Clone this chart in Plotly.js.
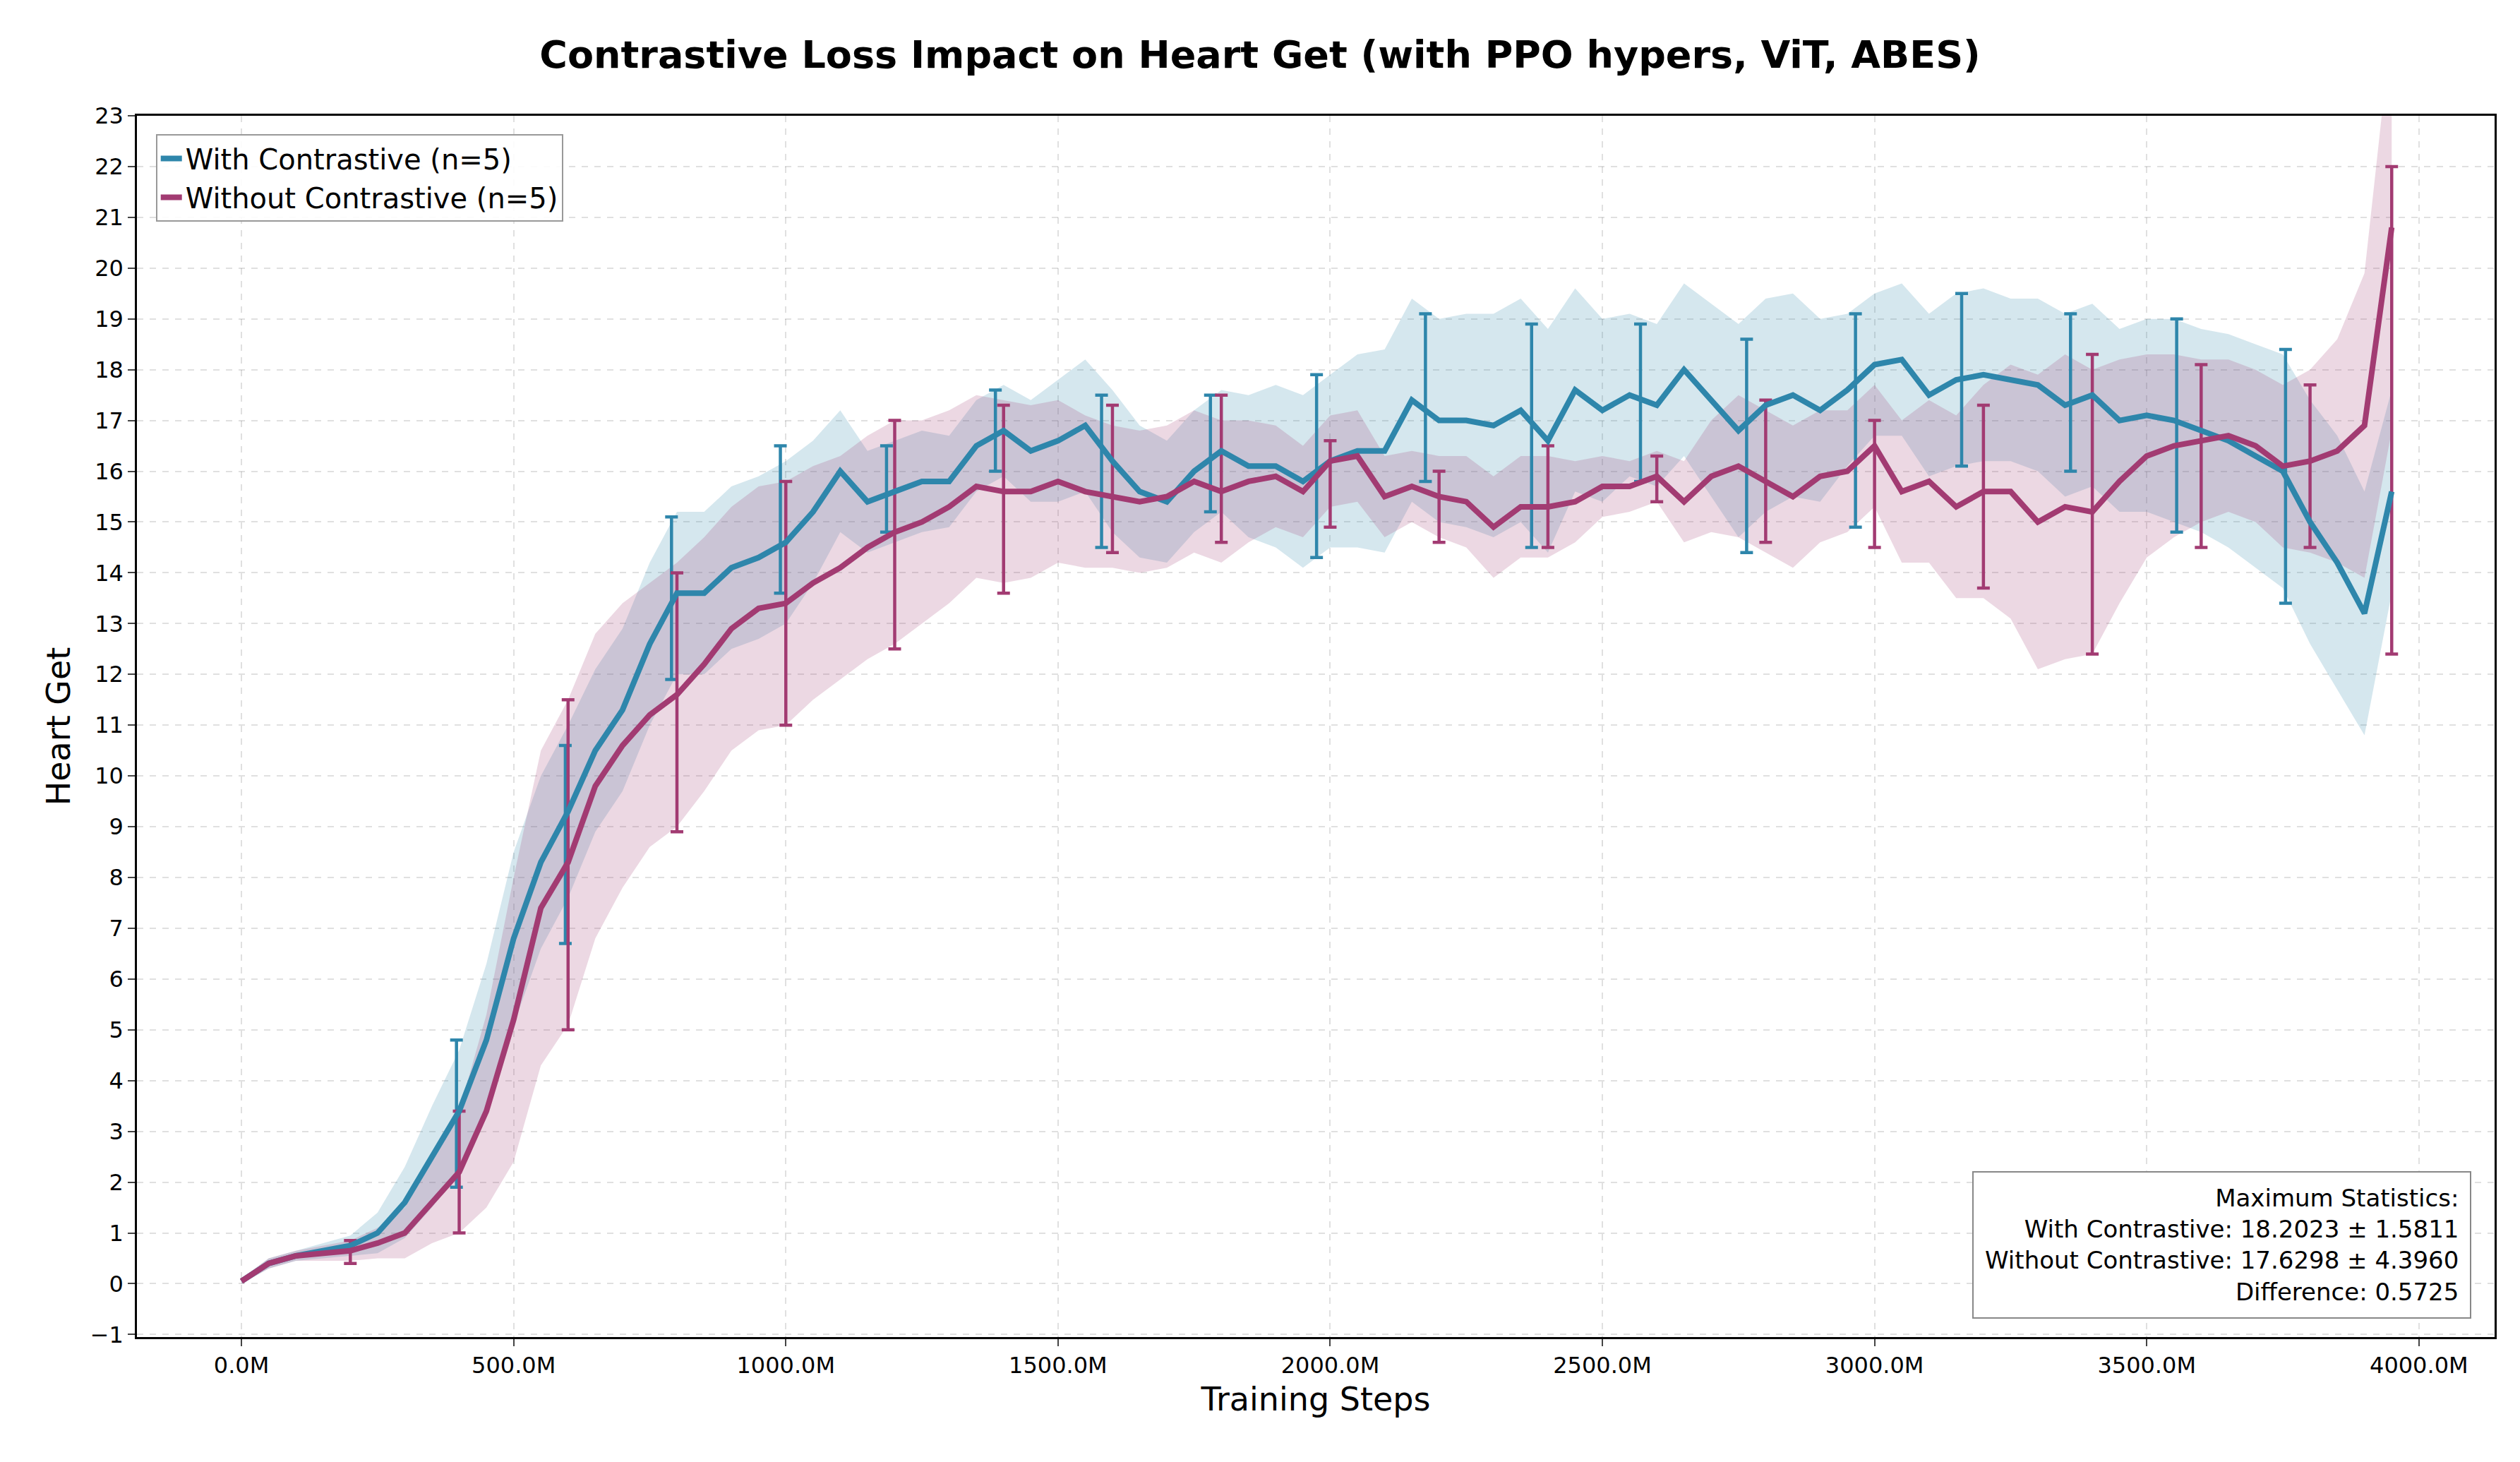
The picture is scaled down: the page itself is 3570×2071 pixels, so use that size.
<!DOCTYPE html>
<html>
<head>
<meta charset="utf-8">
<script src="https://cdn.plot.ly/plotly-3.0.1.min.js"></script>
<style>body{margin:0;background:#fff}#chart{width:3570px;height:2071px}</style>
</head>
<body>
<div id="chart"></div>
<script>
// steps (millions), every 50M
var steps = [];
for (var s = 0; s <= 3950; s += 50) steps.push(s);

//          with contrastive
var withMean = [0.05,0.4,0.55,0.65,0.75,1.0,1.6,2.5,3.4,4.8,6.8,8.3,9.3,10.5,11.3,12.6,13.6,13.6,14.1,14.3,
  14.6,15.2,16.0,15.4,15.6,15.8,15.8,16.5,16.8,16.4,16.6,16.9,16.2,15.6,15.4,16.0,16.4,16.1,16.1,15.8,
  16.2,16.4,16.4,17.4,17.0,17.0,16.9,17.2,16.6,17.6,17.2,17.5,17.3,18.0,17.4,16.8,17.3,17.5,17.2,17.6,
  18.1,18.2,17.5,17.8,17.9,17.8,17.7,17.3,17.5,17.0,17.1,17.0,16.8,16.6,16.3,16.0,15.0,14.2,13.2,15.6];
var withStd = [0.05,0.1,0.1,0.15,0.2,0.4,0.7,1.0,1.2,1.5,1.7,1.7,1.7,1.6,1.6,1.6,1.6,1.6,1.6,1.6,
  1.6,1.4,1.2,1.0,1.0,1.0,0.9,0.9,0.9,1.0,1.2,1.3,1.4,1.3,1.2,1.2,1.2,1.4,1.6,1.7,
  1.7,1.9,2.0,2.0,2.0,2.1,2.2,2.2,2.2,2.0,1.8,1.6,1.6,1.7,1.9,2.1,2.1,2.0,1.8,1.5,
  1.4,1.5,1.6,1.7,1.7,1.6,1.7,1.8,1.8,1.8,1.9,2.0,2.0,2.1,2.2,2.3,2.4,2.5,2.4,2.0];
var withBarX  = [395,595,790,990,1185,1385,1580,1780,1975,2175,2370,2570,2765,2965,3160,3360,3555,3755];
var withBarLo = [1.9,6.7,11.9,13.6,14.8,16.0,14.5,15.2,14.3,15.8,14.5,15.8,14.4,14.9,16.1,16.0,14.8,13.4];
var withBarHi = [4.8,10.6,15.1,16.5,16.5,17.6,17.5,17.5,17.9,19.1,18.9,18.9,18.6,19.1,19.5,19.1,19.0,18.4];

//          without contrastive
var woMean = [0.05,0.4,0.55,0.6,0.65,0.8,1.0,1.6,2.2,3.4,5.2,7.4,8.3,9.8,10.6,11.2,11.6,12.2,12.9,13.3,
  13.4,13.8,14.1,14.5,14.8,15.0,15.3,15.7,15.6,15.6,15.8,15.6,15.5,15.4,15.5,15.8,15.6,15.8,15.9,15.6,
  16.2,16.3,15.5,15.7,15.5,15.4,14.9,15.3,15.3,15.4,15.7,15.7,15.9,15.4,15.9,16.1,15.8,15.5,15.9,16.0,
  16.5,15.6,15.8,15.3,15.6,15.6,15.0,15.3,15.2,15.8,16.3,16.5,16.6,16.7,16.5,16.1,16.2,16.4,16.9,20.8];
var woStd = [0.05,0.1,0.1,0.15,0.2,0.3,0.5,0.8,1.2,1.9,2.8,3.1,3.2,3.0,2.8,2.6,2.6,2.5,2.4,2.4,
  2.4,2.3,2.2,2.2,2.2,2.0,1.9,1.8,1.8,1.7,1.6,1.5,1.4,1.4,1.4,1.4,1.4,1.2,1.0,0.9,
  0.9,0.9,0.8,0.7,0.8,0.9,1.0,1.0,1.0,0.8,0.6,0.5,0.5,0.8,1.1,1.4,1.4,1.4,1.3,1.2,
  1.2,1.4,1.6,1.8,2.1,2.5,2.9,3.0,2.8,2.4,2.0,1.8,1.6,1.5,1.5,1.6,1.8,2.2,3.0,4.0];
var woBarX  = [200,400,600,800,1000,1200,1400,1600,1800,2000,2200,2400,2600,2800,3000,3200,3400,3600,3800,3950];
var woBarLo = [0.4,1.0,5.0,8.9,11.0,12.5,13.6,14.4,14.6,14.9,14.6,14.5,15.4,14.6,14.5,13.7,12.4,14.5,14.5,12.4];
var woBarHi = [0.85,3.4,11.5,14.0,15.8,17.0,17.3,17.3,17.5,16.6,16.0,16.5,16.3,17.4,17.0,17.3,18.3,18.1,17.7,22.0];

var blue = '#2e86ab', mag = '#a23b72';

function band(mean, sd, fill) {
  var up = [], lo = [];
  for (var i = 0; i < mean.length; i++) { up.push(mean[i] + sd[i]); lo.push(mean[i] - sd[i]); }
  return [
    {x: steps, y: lo, mode: 'lines', line: {width: 0}, showlegend: false, hoverinfo: 'skip'},
    {x: steps, y: up, mode: 'lines', line: {width: 0}, fill: 'tonexty', fillcolor: fill, showlegend: false, hoverinfo: 'skip'}
  ];
}
function bars(bx, lo, hi, color) {
  var mid = [], half = [];
  for (var i = 0; i < bx.length; i++) {
    mid.push((lo[i] + hi[i]) / 2); half.push((hi[i] - lo[i]) / 2);
  }
  return {x: bx, y: mid, mode: 'markers', marker: {size: 0.1, color: color}, showlegend: false,
    error_y: {type: 'data', array: half, color: color, thickness: 4.5, width: 9}};
}

var data = [].concat(
  band(withMean, withStd, 'rgba(46,134,171,0.2)'),
  band(woMean, woStd, 'rgba(162,59,114,0.2)'),
  [
    bars(withBarX, withBarLo, withBarHi, blue),
    bars(woBarX, woBarLo, woBarHi, mag),
    {x: steps, y: withMean, mode: 'lines', name: 'With Contrastive (n=5)', line: {color: blue, width: 8}},
    {x: steps, y: woMean, mode: 'lines', name: 'Without Contrastive (n=5)', line: {color: mag, width: 8}}
  ]
);

var tickFont = {family: 'DejaVu Sans', size: 32, color: '#000'};
var layout = {
  width: 3570, height: 2071,
  margin: {l: 194, r: 36, t: 164, b: 177},
  paper_bgcolor: '#fff', plot_bgcolor: '#fff',
  title: {text: '<b>Contrastive Loss Impact on Heart Get (with PPO hypers, ViT, ABES)</b>',
    font: {family: 'DejaVu Sans', size: 54, color: '#000'}, x: 0.5, y: 0.972},
  xaxis: {range: [-192, 4139], tickvals: [0,500,1000,1500,2000,2500,3000,3500,4000],
    ticktext: ['0.0M','500.0M','1000.0M','1500.0M','2000.0M','2500.0M','3000.0M','3500.0M','4000.0M'],
    tickfont: tickFont, showgrid: true, gridcolor: 'rgba(0,0,0,0.12)', griddash: 'dash', gridwidth: 2,
    zeroline: false, showline: true, mirror: true, linecolor: '#000', linewidth: 2.5,
    ticks: 'outside', ticklen: 10, tickwidth: 2,
    title: {text: 'Training Steps', font: {family: 'DejaVu Sans', size: 46, color: '#000'}, standoff: 14}},
  yaxis: {range: [-1.05, 23], dtick: 1, tickfont: tickFont, showgrid: true, gridcolor: 'rgba(0,0,0,0.12)',
    griddash: 'dash', gridwidth: 2, zeroline: false, showline: true, mirror: true, linecolor: '#000', linewidth: 2.5,
    ticks: 'outside', ticklen: 10, tickwidth: 2,
    title: {text: 'Heart Get', font: {family: 'DejaVu Sans', size: 46, color: '#000'}, standoff: 14}},
  legend: {x: 0.008, y: 0.985, xanchor: 'left', yanchor: 'top', traceorder: 'normal',
    bgcolor: 'rgba(255,255,255,0.9)', bordercolor: '#999', borderwidth: 2,
    font: {family: 'DejaVu Sans', size: 40, color: '#000'}},
  annotations: [{xref: 'paper', yref: 'paper', x: 0.99, y: 0.015, xanchor: 'right', yanchor: 'bottom',
    align: 'right', showarrow: false, bgcolor: '#fff', bordercolor: '#888', borderwidth: 2, borderpad: 16,
    font: {family: 'DejaVu Sans', size: 34, color: '#000'},
    text: 'Maximum Statistics:<br>With Contrastive: 18.2023 ± 1.5811<br>Without Contrastive: 17.6298 ± 4.3960<br>Difference: 0.5725'}]
};

Plotly.newPlot('chart', data, layout, {displayModeBar: false});
</script>
</body>
</html>
